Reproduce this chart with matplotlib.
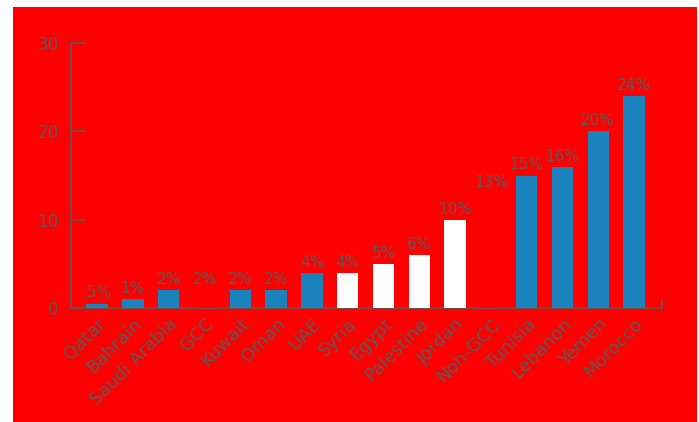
import matplotlib.pyplot as plt
from matplotlib.patches import Rectangle

# share of respondents by country / region
countries = ["Qatar", "Bahrain", "Saudi Arabia", "GCC", "Kuwait", "Oman", "UAE",
             "Syria", "Egypt", "Palestine", "Jordan", "Non-GCC", "Tunisia",
             "Lebanon", "Yemen", "Morocco"]
values = [0.5, 1, 2, 2, 2, 2, 4, 4, 5, 6, 10, 13, 15, 16, 20, 24]
labels = [".5%", "1%", "2%", "2%", "2%", "2%", "4%", "4%", "5%", "6%", "10%",
          "13%", "15%", "16%", "20%", "24%"]
groups = ["gcc", "gcc", "gcc", "total", "gcc", "gcc", "gcc",
          "levant", "levant", "levant", "levant", "total", "gcc",
          "gcc", "gcc", "gcc"]

RED = "#ff0000"
BLUE = "#1a83bd"
GREY = "#5a5a5a"
bar_colors = {"gcc": BLUE, "levant": "white", "total": RED}

W, H = 699, 422
fig = plt.figure(figsize=(W / 100, H / 100), dpi=100, facecolor="white")
fig.patches.append(Rectangle((13 / W, 0), 1 - 15 / W, 1 - 7 / H,
                             transform=fig.transFigure, facecolor=RED,
                             edgecolor="none", zorder=-10))

ax = fig.add_axes([71 / W, (H - 308) / H, (662 - 71) / W, (308 - 43) / H])
ax.set_facecolor("none")

x = range(len(countries))
bars = ax.bar(x, values, width=0.6,
              color=[bar_colors[g] for g in groups], zorder=3)

for rect, lab in zip(bars, labels):
    ax.text(rect.get_x() + rect.get_width() / 2, rect.get_height() + 0.35, lab,
            ha="center", va="bottom", color=GREY, fontsize=11)

ax.set_xlim(-0.73, 15.78)
ax.set_ylim(0, 30)
ax.set_yticks([0, 10, 20, 30])
ax.tick_params(axis="y", direction="in", length=11, width=1.2, color=GREY,
               labelcolor=GREY, labelsize=12, pad=9)

ax.set_xticks(list(x))
ax.set_xticklabels(countries, rotation=45, ha="right", rotation_mode="anchor",
                   color=GREY, fontsize=13)
ax.tick_params(axis="x", length=0, pad=5)

ax.spines["top"].set_visible(False)
ax.spines["right"].set_bounds(0, 0.8)
for side in ["left", "bottom", "right"]:
    ax.spines[side].set_color(GREY)
    ax.spines[side].set_linewidth(1.2)

fig.savefig("out.png", dpi=100, facecolor="white")
